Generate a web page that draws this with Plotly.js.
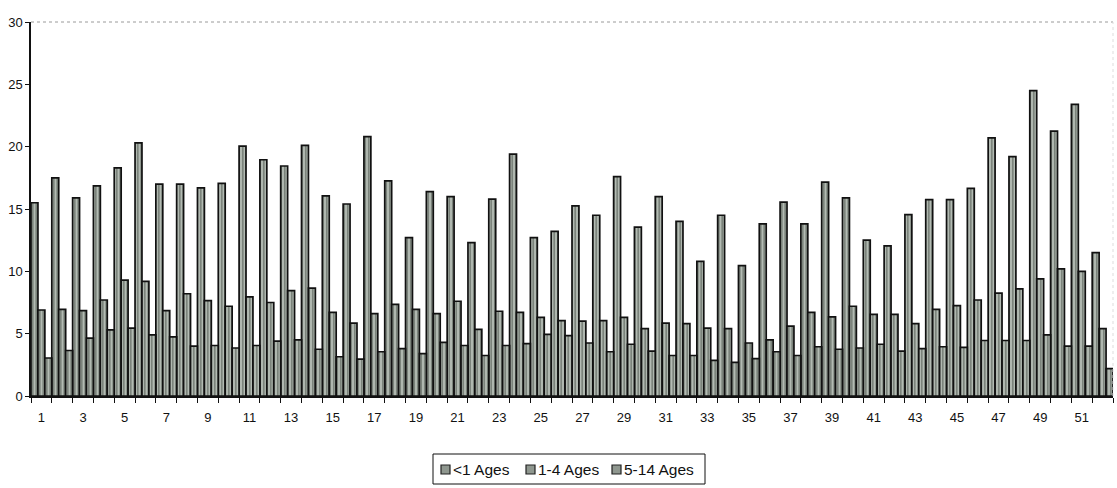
<!DOCTYPE html>
<html>
<head>
<meta charset="utf-8">
<script src="https://cdn.plot.ly/plotly-3.0.1.min.js"></script>
<style>html,body{margin:0;padding:0;background:#fff;}#chart{width:1117px;height:488px;}</style>
</head>
<body>
<div id="chart"></div>
<script>
const weeks = Array.from({length: 52}, (_, i) => i + 1);
const seriesNames = ["<1 Ages", "1-4 Ages", "5-14 Ages"];
const under1 = [15.5,17.5,15.9,16.85,18.3,20.3,17.0,17.0,16.7,17.05,20.05,18.95,18.45,20.1,16.05,15.4,20.8,17.25,12.7,16.4,16.0,12.3,15.8,19.4,12.7,13.2,15.25,14.5,17.6,13.55,16.0,14.0,10.8,14.5,10.45,13.8,15.55,13.8,17.15,15.9,12.5,12.05,14.55,15.75,15.75,16.65,20.7,19.2,24.5,21.25,23.4,11.5];
const age1to4 = [6.9,6.95,6.85,7.7,9.3,9.2,6.85,8.2,7.65,7.2,7.95,7.5,8.45,8.65,6.7,5.85,6.6,7.35,6.95,6.6,7.6,5.35,6.8,6.7,6.3,6.05,6.0,6.05,6.3,5.4,5.85,5.8,5.45,5.4,4.25,4.5,5.6,6.7,6.35,7.2,6.55,6.55,5.8,6.95,7.25,7.7,8.25,8.6,9.4,10.2,10.0,5.4];
const age5to14 = [3.05,3.65,4.65,5.3,5.45,4.9,4.75,4.0,4.05,3.85,4.05,4.4,4.5,3.75,3.15,2.95,3.55,3.8,3.4,4.3,4.05,3.25,4.05,4.2,4.95,4.85,4.25,3.55,4.15,3.6,3.25,3.25,2.85,2.7,3.0,3.55,3.25,3.95,3.75,3.85,4.15,3.6,3.8,3.95,3.9,4.45,4.45,4.45,4.9,4.0,4.0,2.2];
const tickLabels = weeks.filter(w => w % 2 === 1);
const yTicks = [0, 5, 10, 15, 20, 25, 30];

const FONT = "Liberation Sans, Arial, sans-serif";
const FILL = "#b3bbb3";
const W = 1117, H = 488;
const M = {l: 31, r: 4, t: 22, b: 92};
const PW = W - M.l - M.r, PH = H - M.t - M.b;
const px2x = px => (px - M.l) / PW;
const py2y = py => (H - M.b - py) / PH;

function barTrace(name, values) {
  return {
    type: "bar", name: name, x: weeks, y: values, showlegend: false,
    marker: {
      color: FILL,
      line: {color: "#111", width: 1.7},
      pattern: {shape: "|", fgcolor: "#555d55", bgcolor: FILL, size: 3.5, solidity: 0.3}
    }
  };
}
const data = [
  barTrace(seriesNames[0], under1),
  barTrace(seriesNames[1], age1to4),
  barTrace(seriesNames[2], age5to14)
];

// custom legend (box, swatches, labels)
const legendBox = {x0: 433, x1: 705, y0: 454, y1: 484};
const legendItems = [{sw: 441, tx: 451}, {sw: 526, tx: 536}, {sw: 612, tx: 622}];
const legendY = 469;
const shapes = [
  {type: "line", xref: "paper", yref: "paper", x0: 0, x1: 1, y0: 1, y1: 1,
   line: {color: "#9a9a9a", width: 1, dash: "dot"}},
  {type: "line", xref: "paper", yref: "paper", x0: 1, x1: 1, y0: 0, y1: 1,
   line: {color: "#dddddd", width: 1, dash: "dot"}},
  {type: "rect", xref: "paper", yref: "paper",
   x0: px2x(legendBox.x0), x1: px2x(legendBox.x1), y0: py2y(legendBox.y1), y1: py2y(legendBox.y0),
   line: {color: "#111", width: 1}, fillcolor: "#fff", layer: "above"}
];
const annotations = [];
legendItems.forEach((it, i) => {
  shapes.push({type: "rect", xref: "paper", yref: "paper",
    x0: px2x(it.sw), x1: px2x(it.sw + 9), y0: py2y(legendY + 5), y1: py2y(legendY - 4),
    line: {color: "#222", width: 1.2}, fillcolor: "#8f978f", layer: "above"});
  annotations.push({xref: "paper", yref: "paper", x: px2x(it.tx), y: py2y(legendY),
    xanchor: "left", yanchor: "middle", showarrow: false, text: seriesNames[i],
    font: {family: FONT, size: 15.5, color: "#111"}});
});

const layout = {
  width: W, height: H,
  margin: M,
  paper_bgcolor: "#fff", plot_bgcolor: "#fff",
  barmode: "group", bargap: 0, bargroupgap: 0,
  font: {family: FONT, size: 13, color: "#111"},
  showlegend: false,
  xaxis: {
    range: [0.5, 52.5], tickmode: "array", tickvals: tickLabels, ticktext: tickLabels.map(String),
    ticks: "", showgrid: false, zeroline: false,
    showline: true, linecolor: "#111", linewidth: 1.6,
    tickfont: {family: FONT, size: 13, color: "#111"},
    ticklabelstandoff: 9,
    minor: {ticks: "outside", tick0: 0.5, dtick: 1, ticklen: 5, tickcolor: "#111", tickwidth: 1, showgrid: false}
  },
  yaxis: {
    range: [0, 30], tickmode: "array", tickvals: yTicks,
    ticks: "outside", ticklen: 4, tickcolor: "#111",
    showgrid: false, zeroline: false,
    showline: true, linecolor: "#111", linewidth: 1.6,
    tickfont: {family: FONT, size: 13, color: "#111"}
  },
  shapes: shapes,
  annotations: annotations
};
Plotly.newPlot("chart", data, layout, {displayModeBar: false, staticPlot: true});
</script>
</body>
</html>
